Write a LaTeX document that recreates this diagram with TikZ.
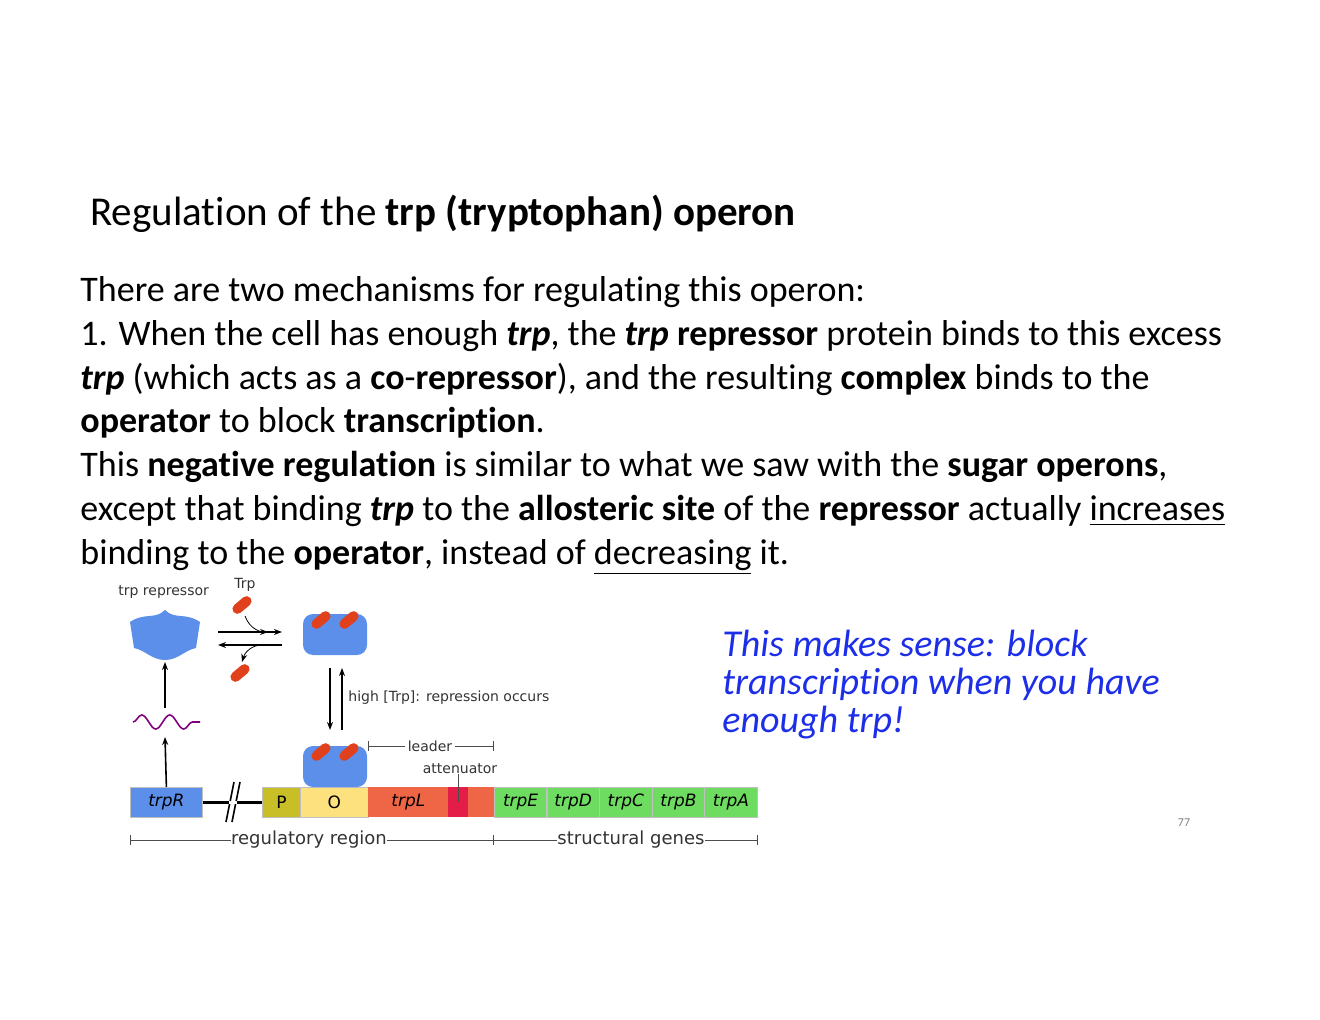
\documentclass[tikz,border=0pt]{standalone}
\usepackage{fontspec}
\setmainfont{Carlito}[Ligatures=NoCommon]
\newfontfamily\labelfont{DejaVu Sans}
\usetikzlibrary{arrows.meta,decorations.pathmorphing,calc}
\definecolor{repblue}{HTML}{5B8FEA}
\definecolor{trpred}{HTML}{E0401C}
\definecolor{polive}{HTML}{C8BE28}
\definecolor{oyellow}{HTML}{FCE17E}
\definecolor{lorange}{HTML}{EF6646}
\definecolor{attred}{HTML}{E41C48}
\definecolor{sgreen}{HTML}{6EDC60}
\definecolor{notes}{HTML}{1C2EE8}
\tikzset{
  body/.style={anchor=base west,inner sep=0pt,font=\fontsize{18}{20}\selectfont},
  gene/.style={draw=black!25,minimum height=15pt,inner sep=0pt,anchor=north west,font=\labelfont\fontsize{8.5}{10}\selectfont\itshape},
  tiny/.style={inner sep=0pt,font=\labelfont\fontsize{7}{8}\selectfont,text=black!80},
  arr/.style={-{Stealth[length=4pt]},thick},
  ruler/.style={black!70,thin},
  note/.style={anchor=base west,inner sep=0pt,text=notes,font=\fontsize{19}{21}\selectfont\itshape}
}
\newcommand{\trpmol}[1]{\draw[trpred,line width=5pt,line cap=round,rotate around={40:#1}] ($#1+(-6,0)$) -- ($#1+(6,0)$);}
\begin{document}
\begin{tikzpicture}[x=0.5pt,y=-0.5pt]
\useasboundingbox (0,0) rectangle (1320,1020);
% title and text
\node[body,font=\fontsize{20.5}{22}\selectfont] (title) at (90,226) {Regulation of the \textbf{trp (tryptophan) operon}};
\node[body] (l1) at (80,302) {There are two mechanisms for regulating this operon:};
\node[body] (l2) at (80,346) {1. When the cell has enough \textbf{\textit{trp}}, the \textbf{\textit{trp} repressor} protein binds to this excess};
\node[body] (l3) at (80,390) {\textbf{\textit{trp}} (which acts as a \textbf{co}-\textbf{repressor}), and the resulting \textbf{complex} binds to the};
\node[body] (l4) at (80,433) {\textbf{operator} to block \textbf{transcription}.};
\node[body] (l5) at (80,477) {This \textbf{negative regulation} is similar to what we saw with the \textbf{sugar operons},};
\node[body] (l6) at (80,521) {except that binding \textbf{\textit{trp}} to the \textbf{allosteric site} of the \textbf{repressor} actually \underline{increases}};
\node[body] (l7) at (80,564) {binding to the \textbf{operator}, instead of \underline{decreasing} it.};
% note
\node[note] (n1) at (722,656) {This makes sense: block};
\node[note] (n2) at (722,694) {transcription when you have};
\node[note] (n3) at (722,732) {enough trp!};
\node[inner sep=0pt,text=black!50,font=\fontsize{6}{7}\selectfont] (page) at (1184,823) {77};
% genes
\node[gene,fill=repblue,minimum width=36pt] (trpR) at (130,787) {trpR};
\node[gene,fill=polive,minimum width=19pt,font=\labelfont\fontsize{8.5}{10}\selectfont] (P) at (262,787) {P};
\node[gene,fill=oyellow,minimum width=34pt,font=\labelfont\fontsize{8.5}{10}\selectfont] (O) at (300,787) {O};
\node[gene,fill=lorange,minimum width=40pt,draw=none] (trpL) at (368,787) {trpL};
\node[gene,fill=attred,minimum width=10pt,draw=none] (att) at (448,787) {};
\node[gene,fill=lorange,minimum width=13pt,draw=none] (trpL2) at (468,787) {};
\foreach \g [count=\i from 0] in {trpE,trpD,trpC,trpB,trpA}
  \node[gene,fill=sgreen,minimum width=26.2pt] (\g) at (494+52.6*\i,787) {\g};
\draw[very thick] (trpR.east) -- (P.west);
\draw[thick] (226,822) -- (234,782) (232,822) -- (240,782);
\fill[white] (229,800.5) rectangle (237,803.5);
% repressors
\fill[repblue] (130,622) .. controls (145,612) and (155,620) .. (165,610) .. controls (175,620) and (185,612) .. (200,622) -- (196,648) .. controls (185,650) and (178,660) .. (165,660) .. controls (152,660) and (145,650) .. (134,648) -- cycle;
\foreach \cy in {635,767}{
  \fill[repblue,rounded corners=5] (303,\cy-21) -- (367,\cy-21) -- (367,\cy+20) -- (303,\cy+20) -- cycle;
  \trpmol{(321,\cy-15)} \trpmol{(349,\cy-15)}
}
\trpmol{(242,605)}
\trpmol{(240,673)}
% arrows
\draw[arr] (trpR.north) -- (165,737);
\draw[thick,violet,decorate,decoration={snake,amplitude=3.5,segment length=14}] (133,722) -- (200,722);
\draw[arr] (165,708) -- (165,662);
\draw[arr] (218,632) -- (282,632);
\draw[arr] (282,645) -- (218,645);
\draw[arr,thin] (245,616) .. controls (250,630) and (262,632) .. (268,632);
\draw[arr,thin] (262,645) .. controls (252,645) and (245,652) .. (242,662);
\draw[arr] (330,668) -- (330,730);
\draw[arr] (342,730) -- (342,668);
\node[tiny,anchor=west] (high) at (348,698) {high [Trp]: repression occurs};
\node[tiny,anchor=west] (rep) at (118,592) {trp repressor};
\node[tiny] (trp) at (245,585) {Trp};
% leader and attenuator
\node[tiny,fill=white,inner xsep=1pt] (lead) at (430,746) {leader};
\draw[ruler,|-] (368,746) -- (lead.west);
\draw[ruler,-|] (lead.east) -- (494,746);
\node[tiny] (attn) at (460,769) {attenuator};
\draw[ruler] (attn.south -| att) -- (att.center);
% bottom ruler
\node[inner sep=0pt,font=\labelfont\fontsize{9}{10}\selectfont,text=black!80] (reg) at (309,840) {regulatory region};
\node[inner sep=0pt,font=\labelfont\fontsize{9}{10}\selectfont,text=black!80] (str) at (631,840) {structural genes};
\draw[ruler,|-] (130,840) -- (reg.west);
\draw[ruler,-|] (reg.east) -- (494,840);
\draw[ruler] (494,840) -- (str.west);
\draw[ruler,-|] (str.east) -- (758,840);
\end{tikzpicture}
\end{document}
